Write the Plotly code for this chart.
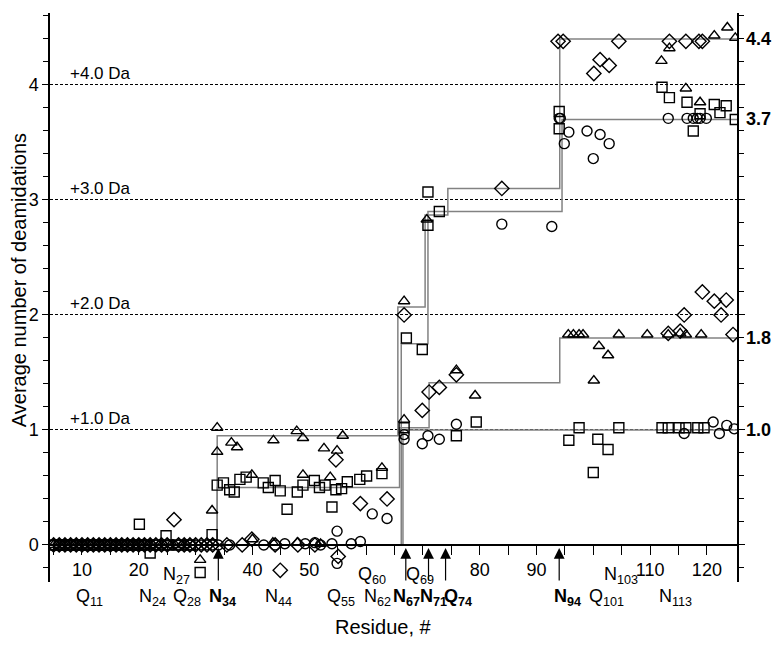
import plotly.graph_objects as go

# --- residue axis / labels ---------------------------------------------
x_range = [4.37, 125.3]
y_range = [-0.322, 4.626]

tick_vals = [5, 10, 15, 20, 25, 30, 35, 40, 45, 50, 55, 60, 65, 70, 75, 80, 85,
             90, 95, 100, 105, 110, 115, 120]
tick_text = ['', '10', '', '20', '', '', '', '40', '', '50', '', '', '', '', '', '80', '',
             '90', '', '', '', '110', '', '120']

# residue labels (lower row / upper row), bold ones are the arrowed sites
low_res = [11, 24, 28, 34, 44, 55, 62, 67, 71, 74, 94, 101, 113]
low_aa = ['Q', 'N', 'Q', 'N', 'N', 'Q', 'N', 'N', 'N', 'Q', 'N', 'Q', 'N']
low_bold = [False, False, False, True, False, False, False, True, True, True, True, False, False]
up_res = [27, 60, 69, 103]
up_aa = ['N', 'Q', 'Q', 'N']
arrow_res = [34, 67, 71, 74, 94]

# --- step curves (cumulative deamidation) -------------------------------
stepA_x = [4.37, 33.8, 65.6, 70.4, 74.4, 94.1, 125.3]
stepA_y = [0, 0.95, 2.07, 2.87, 3.10, 4.40, 4.40]
stepB_x = [4.37, 66.2, 70.9, 94.5, 125.3]
stepB_y = [0, 1.75, 2.90, 3.70, 3.70]
stepC_x = [4.37, 33.8, 65.9, 71.1, 94.1, 125.3]
stepC_y = [0, 0.50, 1.02, 1.41, 1.80, 1.80]
stepD_x = [4.37, 66.5, 125.3]
stepD_y = [0, 1.0, 1.0]

da_levels = [1, 2, 3, 4]
right_vals = [4.4, 3.7, 1.8, 1.0]

# --- data points --------------------------------------------------------
circle_x = [5, 6, 7, 8, 9, 10, 11, 12, 13, 14, 15, 16, 17, 18, 19, 20, 21, 22, 23, 24,
            25, 26, 27, 28, 29, 30, 31, 32, 33, 34, 36, 42, 44, 45.7, 49.3, 51, 52, 54,
            57.4, 59, 54.9, 54.9, 61.1, 63.7,
            66.7, 66.7, 69.9, 70.9, 72.9, 75.9, 83.9, 92.7,
            94.0, 94.2, 95.7, 94.9, 98.9, 100.0, 101.2, 102.8,
            113.2, 116.5, 117.6, 118.3, 118.8, 119.9,
            116.0, 121.1, 122.2, 123.5, 124.8]
circle_y = [0, 0, 0, 0, 0, 0, 0, 0, 0, 0, 0, 0, 0, 0, 0, 0, 0, 0, 0, 0,
            0, 0, 0, 0, 0, 0, 0, 0, 0, 0, 0, 0, 0, 0.01, 0.01, 0.02, 0, 0.01,
            0.01, 0.03, 0.12, -0.16, 0.27, 0.23,
            0.96, 0.92, 0.88, 0.95, 0.92, 1.05, 2.79, 2.77,
            3.71, 3.71, 3.59, 3.49, 3.60, 3.36, 3.57, 3.49,
            3.71, 3.71, 3.71, 3.71, 3.71, 3.71,
            0.97, 1.07, 0.97, 1.04, 1.01]

square_x = [5, 6, 7, 8, 9, 10, 11, 12, 13, 14, 15, 16, 17, 18, 19, 20, 21, 23, 25, 27, 29,
            20.1, 22.0, 24.8, 32.9, 30.8,
            33.8, 34.9, 36.0, 36.8, 37.8, 38.9, 41.9, 42.8, 44.0, 44.9, 46.1, 47.9, 48.9,
            50.9, 51.8, 52.8, 54.0, 54.7, 55.7, 56.7, 58.9, 60.1, 62.8,
            66.7, 67.1, 69.9, 70.9, 70.9, 72.9, 75.9, 79.4,
            94.0, 94.0, 95.7, 97.5, 100.8, 100.0, 102.6, 104.5,
            112.1, 113.2, 115.1, 116.3, 118.4, 119.5,
            112.1, 113.4, 116.5, 118.8, 121.3, 122.3, 123.4, 125.0, 117.6]
square_y = [0, 0, 0, 0, 0, 0, 0, 0, 0, 0, 0, 0, 0, 0, 0, 0, 0, 0, 0, 0, 0,
            0.18, -0.07, 0.08, 0.09, -0.24,
            0.52, 0.54, 0.48, 0.46, 0.57, 0.59, 0.54, 0.50, 0.56, 0.47, 0.31, 0.46, 0.52,
            0.56, 0.50, 0.52, 0.33, 0.48, 0.49, 0.55, 0.57, 0.60, 0.62,
            1.02, 1.80, 1.70, 3.07, 2.78, 2.90, 0.95, 1.07,
            3.77, 3.62, 0.91, 1.02, 0.92, 0.63, 0.83, 1.02,
            1.02, 1.02, 1.02, 1.02, 1.02, 1.02,
            3.98, 3.89, 3.85, 3.75, 3.83, 3.76, 3.82, 3.70, 3.60]

triangle_x = [5, 6, 7, 8, 9, 10, 11, 12, 13, 14, 15, 16, 17, 18, 19, 20, 21, 22, 24, 26, 28,
              32.9, 30.8, 40, 43.6, 47.9, 52,
              33.8, 33.8, 36.3, 37.3, 43.7, 47.8, 48.9, 52.6, 54.9, 55.9,
              39.9, 48.9, 53.7, 62.8,
              66.7, 66.7, 70.7, 75.9, 79.2,
              95.6, 96.5, 97.5, 98.2, 104.5, 109.5, 113.2, 115.3, 116.3, 119.0,
              101.0, 102.6, 100.1,
              112.0, 113.4, 121.3, 123.6, 125.0, 116.3, 118.8]
triangle_y = [0, 0, 0, 0, 0, 0, 0, 0, 0, 0, 0, 0, 0, 0, 0, 0, 0, 0, 0, 0, 0,
              0.30, -0.13, 0.05, 0.02, 0.02, 0.01,
              1.02, 0.81, 0.89, 0.85, 0.91, 0.99, 0.93, 0.84, 0.82, 0.95,
              0.61, 0.61, 0.59, 0.67,
              1.09, 2.12, 2.83, 1.52, 1.30,
              1.83, 1.83, 1.83, 1.83, 1.83, 1.83, 1.83, 1.84, 1.83, 1.83,
              1.73, 1.65, 1.43,
              4.21, 4.32, 4.43, 4.50, 4.41, 3.97, 3.85]

diamond_x = [5, 6, 7, 8, 9, 10, 11, 12, 13, 14, 15, 16, 17, 18, 19, 20, 21, 22, 23, 24,
             25, 27, 28, 29, 30, 31, 32, 33,
             26.2, 35.5, 38.2, 39.9, 44.0, 48.0, 51.0, 55.1, 44.9,
             54.7, 59.0, 63.7,
             66.7, 69.9, 71.1, 72.9, 75.9, 83.9,
             93.8, 94.7, 104.5, 113.4, 116.3, 118.6, 119.2,
             100.1, 101.2, 102.8,
             119.2, 121.3, 123.4, 116.0, 122.5, 124.6, 113.2, 115.3]
diamond_y = [0, 0, 0, 0, 0, 0, 0, 0, 0, 0, 0, 0, 0, 0, 0, 0, 0, 0, 0, 0,
             0, 0, 0, 0, 0, 0, 0, 0,
             0.22, 0, 0, 0.05, 0, 0, 0, -0.10, -0.22,
             0.74, 0.36, 0.40,
             2.00, 1.17, 1.33, 1.37, 1.48, 3.10,
             4.38, 4.38, 4.38, 4.38, 4.38, 4.38, 4.38,
             4.10, 4.22, 4.17,
             2.20, 2.12, 2.13, 2.00, 2.00, 1.83, 1.84, 1.86]

FONT = 'Liberation Sans, Arial, sans-serif'

# pixel nudges for the residue labels (layout only)
low_shift = [2, -9, 3, 4, 3, 3, 0, 1, 5, 12, 8, 8, 8]
up_shift = [-2, 6, 3, 11]

fig = go.Figure()

# step curves
for sx, sy in [(stepA_x, stepA_y), (stepB_x, stepB_y), (stepC_x, stepC_y), (stepD_x, stepD_y)]:
    fig.add_trace(go.Scatter(x=sx, y=sy, mode='lines', line=dict(color='#828282', width=1.5, shape='hv'),
                             showlegend=False, hoverinfo='skip'))

# markers
for mx, my, sym, sz in [(circle_x, circle_y, 'circle-open', 10),
                        (square_x, square_y, 'square-open', 10),
                        (triangle_x, triangle_y, 'triangle-up-open', 10),
                        (diamond_x, diamond_y, 'diamond-open', 11)]:
    fig.add_trace(go.Scatter(x=mx, y=my, mode='markers',
                             marker=dict(symbol=sym, size=sz, color='black', line=dict(width=1.4, color='black')),
                             showlegend=False))

annotations = []

# "+n.0 Da" labels above dashed lines
for lv in da_levels:
    annotations.append(dict(x=7.5, y=lv, xref='x', yref='y', text='+%.1f Da' % lv, showarrow=False,
                            xanchor='left', yanchor='bottom', yshift=0, font=dict(size=17, color='black')))

# right side values
for rv in right_vals:
    annotations.append(dict(x=1, y=rv, xref='paper', yref='y', text='<b>%.1f</b>' % rv, showarrow=False,
                            xanchor='left', xshift=7, font=dict(size=18, color='black')))

# residue labels
def res_label(aa, num, bold):
    if bold:
        return '<b>%s<sub>%d</sub></b>' % (aa, num)
    return '%s<sub>%d</sub>' % (aa, num)

for r, aa, b, sh in zip(low_res, low_aa, low_bold, low_shift):
    annotations.append(dict(x=r, y=-0.028, xref='x', yref='paper', text=res_label(aa, r, b), showarrow=False,
                            xanchor='center', yanchor='middle', xshift=sh, font=dict(size=18, color='black')))
for r, aa, sh in zip(up_res, up_aa, up_shift):
    annotations.append(dict(x=r, y=0.012, xref='x', yref='paper', text=res_label(aa, r, False), showarrow=False,
                            xanchor='center', yanchor='middle', xshift=sh, font=dict(size=18, color='black')))

# arrows marking the deamidation sites
for r in arrow_res:
    annotations.append(dict(x=r, y=0, xref='x', yref='y', text='', showarrow=True, ax=0, ay=34,
                            yshift=-3, arrowhead=2, arrowsize=1.8, arrowwidth=1.2, arrowcolor='black'))

# axis titles
annotations.append(dict(x=0.485, y=-0.079, xref='paper', yref='paper', text='Residue, #', showarrow=False,
                        xanchor='center', yanchor='middle', font=dict(size=20, color='black')))
annotations.append(dict(x=-0.044, y=0.53, xref='paper', yref='paper', text='Average number of deamidations',
                        showarrow=False, textangle=-90, xanchor='center', yanchor='middle',
                        font=dict(size=20, color='black')))

# margins allow for the 8px default page margin of the html body
fig.update_layout(
    width=780, height=645,
    margin=dict(l=42, r=51, t=5, b=71),
    plot_bgcolor='white', paper_bgcolor='white',
    font=dict(family=FONT, color='black', size=18),
    showlegend=False,
    annotations=annotations,
    xaxis=dict(range=x_range, anchor='free', position=0.0651, automargin=False,
               showline=True, linecolor='black', linewidth=1.5,
               tickmode='array', tickvals=tick_vals, ticktext=tick_text,
               ticks='outside', ticklen=9, tickwidth=1.3, tickcolor='black',
               showgrid=False, zeroline=False, tickfont=dict(size=18)),
    yaxis=dict(range=y_range, showline=True, linecolor='black', linewidth=1.5, mirror='ticks',
               automargin=False,
               tickmode='linear', tick0=0, dtick=1, ticks='outside', ticklen=6, tickwidth=1.3,
               tickcolor='black',
               minor=dict(dtick=0.2, tick0=0, ticks='outside', ticklen=5, tickwidth=1.2, tickcolor='black',
                          showgrid=False),
               showgrid=True, gridcolor='black', gridwidth=0.8, griddash='3px,2px',
               zeroline=False, tickfont=dict(size=18)),
)

fig.write_html("out.html")
